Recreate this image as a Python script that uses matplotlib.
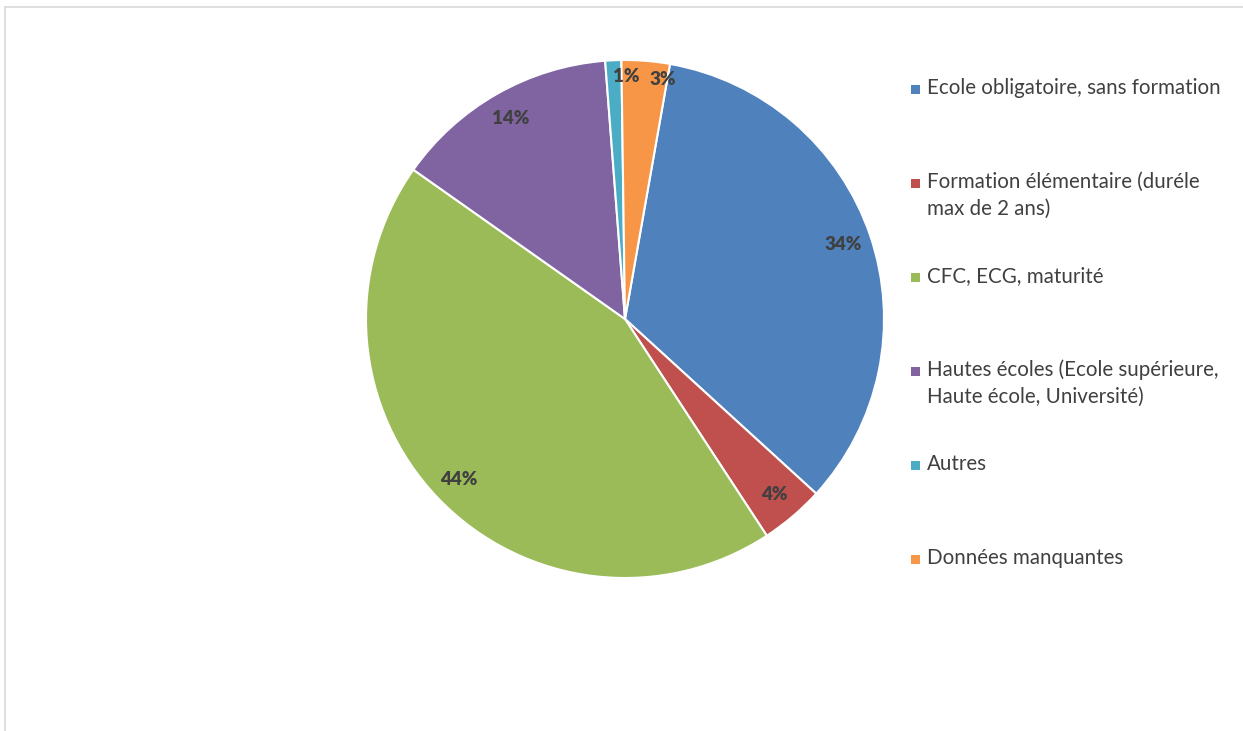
import numpy as np
import matplotlib.pyplot as plt
from matplotlib.patches import Rectangle
from matplotlib.lines import Line2D

plt.rcParams['font.family'] = ['Lato', 'DejaVu Sans']

# parts des niveaux de formation (%)
categories = ['Ecole obligatoire, sans formation',
              'Formation élémentaire (duréle\nmax de 2 ans)',
              'CFC, ECG, maturité',
              'Hautes écoles (Ecole supérieure,\nHaute école, Université)',
              'Autres',
              'Données manquantes']
values = [34, 4, 44, 14, 1, 3]
colors = ['#4F81BD', '#C0504D', '#9BBB59', '#8064A2', '#4BACC6', '#F79646']

W, H = 1243, 731
fig = plt.figure(figsize=(W / 100, H / 100), dpi=100)

# cadre gris clair (haut et gauche)
fig.add_artist(Line2D([5 / W, 1], [1 - 7 / H, 1 - 7 / H], color='#d9d9d9', lw=1.2,
                      transform=fig.transFigure))
fig.add_artist(Line2D([5 / W, 5 / W], [0, 1 - 7 / H], color='#d9d9d9', lw=1.2,
                      transform=fig.transFigure))

# camembert
cx, cy, r = 625, 319, 259
ax = fig.add_axes([(cx - r) / W, (H - cy - r) / H, 2 * r / W, 2 * r / H])
wedges, texts, autotexts = ax.pie(values, colors=colors, startangle=80, counterclock=False,
                                  autopct='%1.0f%%', pctdistance=0.89,
                                  wedgeprops=dict(edgecolor='white', linewidth=1.5),
                                  textprops=dict(color='#404040', fontsize=13.5,
                                                 fontweight='heavy'))
ax.set_xlim(-1, 1)
ax.set_ylim(-1, 1)

# décaler les deux petites étiquettes du haut pour qu'elles ne se chevauchent pas
for i, dang in [(4, -3.0), (5, -4.3)]:
    w = wedges[i]
    ang = np.deg2rad((w.theta1 + w.theta2) / 2 + dang)
    autotexts[i].set_position((0.935 * np.cos(ang), 0.935 * np.sin(ang)))

# légende
x_sq, x_txt = 911, 927
y_first, pitch, line_h = 94, 94, 27
for i, (lab, col) in enumerate(zip(categories, colors)):
    yb = y_first + i * pitch
    fig.add_artist(Rectangle((x_sq / W, 1 - yb / H), 9 / W, 9 / H,
                             facecolor=col, edgecolor='none', transform=fig.transFigure))
    for k, line in enumerate(lab.split('\n')):
        fig.text(x_txt / W, 1 - (yb + k * line_h) / H, line, fontsize=14.8,
                 color='#404040', ha='left', va='baseline')

fig.savefig('out.png', dpi=100, facecolor='white')
